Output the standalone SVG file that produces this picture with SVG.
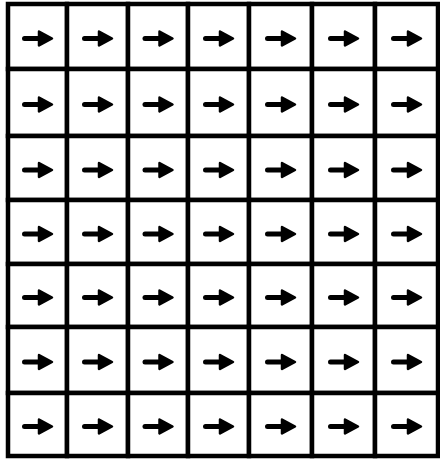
<svg xmlns="http://www.w3.org/2000/svg" xmlns:xlink="http://www.w3.org/1999/xlink" width="440" height="459" viewBox="0 0 440 459">
<style>
.cell{fill:#fff;stroke:#000;stroke-width:4.5}
.shaft{stroke:#000;stroke-width:5;stroke-linecap:round;fill:none}
.head{fill:#000;stroke:#000;stroke-width:2.5;stroke-linejoin:round}
</style>
<defs>
<g id="arr">
<path class="shaft" d="M-13,2 H4"/>
<path class="head" d="M1.5,-5 L14.5,2 L1.5,9 Z"/>
</g>
</defs>
<rect x="0" y="0" width="440" height="459" fill="#fff"/>
<g id="cells">
<g id="r1">
<g id="c1-1"><rect class="cell" x="8" y="4" width="59" height="65"/><use xlink:href="#arr" x="37.5" y="36.5"/></g>
<g id="c1-2"><rect class="cell" x="67" y="4" width="61" height="65"/><use xlink:href="#arr" x="97.5" y="36.5"/></g>
<g id="c1-3"><rect class="cell" x="128" y="4" width="60" height="65"/><use xlink:href="#arr" x="158" y="36.5"/></g>
<g id="c1-4"><rect class="cell" x="188" y="4" width="61" height="65"/><use xlink:href="#arr" x="218.5" y="36.5"/></g>
<g id="c1-5"><rect class="cell" x="249" y="4" width="63" height="65"/><use xlink:href="#arr" x="280.5" y="36.5"/></g>
<g id="c1-6"><rect class="cell" x="312" y="4" width="63" height="65"/><use xlink:href="#arr" x="343.5" y="36.5"/></g>
<g id="c1-7"><rect class="cell" x="375" y="4" width="63" height="65"/><use xlink:href="#arr" x="406.5" y="36.5"/></g>
</g>
<g id="r2">
<g id="c2-1"><rect class="cell" x="8" y="69" width="59" height="67"/><use xlink:href="#arr" x="37.5" y="102.5"/></g>
<g id="c2-2"><rect class="cell" x="67" y="69" width="61" height="67"/><use xlink:href="#arr" x="97.5" y="102.5"/></g>
<g id="c2-3"><rect class="cell" x="128" y="69" width="60" height="67"/><use xlink:href="#arr" x="158" y="102.5"/></g>
<g id="c2-4"><rect class="cell" x="188" y="69" width="61" height="67"/><use xlink:href="#arr" x="218.5" y="102.5"/></g>
<g id="c2-5"><rect class="cell" x="249" y="69" width="63" height="67"/><use xlink:href="#arr" x="280.5" y="102.5"/></g>
<g id="c2-6"><rect class="cell" x="312" y="69" width="63" height="67"/><use xlink:href="#arr" x="343.5" y="102.5"/></g>
<g id="c2-7"><rect class="cell" x="375" y="69" width="63" height="67"/><use xlink:href="#arr" x="406.5" y="102.5"/></g>
</g>
<g id="r3">
<g id="c3-1"><rect class="cell" x="8" y="136" width="59" height="64"/><use xlink:href="#arr" x="37.5" y="168"/></g>
<g id="c3-2"><rect class="cell" x="67" y="136" width="61" height="64"/><use xlink:href="#arr" x="97.5" y="168"/></g>
<g id="c3-3"><rect class="cell" x="128" y="136" width="60" height="64"/><use xlink:href="#arr" x="158" y="168"/></g>
<g id="c3-4"><rect class="cell" x="188" y="136" width="61" height="64"/><use xlink:href="#arr" x="218.5" y="168"/></g>
<g id="c3-5"><rect class="cell" x="249" y="136" width="63" height="64"/><use xlink:href="#arr" x="280.5" y="168"/></g>
<g id="c3-6"><rect class="cell" x="312" y="136" width="63" height="64"/><use xlink:href="#arr" x="343.5" y="168"/></g>
<g id="c3-7"><rect class="cell" x="375" y="136" width="63" height="64"/><use xlink:href="#arr" x="406.5" y="168"/></g>
</g>
<g id="r4">
<g id="c4-1"><rect class="cell" x="8" y="200" width="59" height="64"/><use xlink:href="#arr" x="37.5" y="232"/></g>
<g id="c4-2"><rect class="cell" x="67" y="200" width="61" height="64"/><use xlink:href="#arr" x="97.5" y="232"/></g>
<g id="c4-3"><rect class="cell" x="128" y="200" width="60" height="64"/><use xlink:href="#arr" x="158" y="232"/></g>
<g id="c4-4"><rect class="cell" x="188" y="200" width="61" height="64"/><use xlink:href="#arr" x="218.5" y="232"/></g>
<g id="c4-5"><rect class="cell" x="249" y="200" width="63" height="64"/><use xlink:href="#arr" x="280.5" y="232"/></g>
<g id="c4-6"><rect class="cell" x="312" y="200" width="63" height="64"/><use xlink:href="#arr" x="343.5" y="232"/></g>
<g id="c4-7"><rect class="cell" x="375" y="200" width="63" height="64"/><use xlink:href="#arr" x="406.5" y="232"/></g>
</g>
<g id="r5">
<g id="c5-1"><rect class="cell" x="8" y="264" width="59" height="63"/><use xlink:href="#arr" x="37.5" y="295.5"/></g>
<g id="c5-2"><rect class="cell" x="67" y="264" width="61" height="63"/><use xlink:href="#arr" x="97.5" y="295.5"/></g>
<g id="c5-3"><rect class="cell" x="128" y="264" width="60" height="63"/><use xlink:href="#arr" x="158" y="295.5"/></g>
<g id="c5-4"><rect class="cell" x="188" y="264" width="61" height="63"/><use xlink:href="#arr" x="218.5" y="295.5"/></g>
<g id="c5-5"><rect class="cell" x="249" y="264" width="63" height="63"/><use xlink:href="#arr" x="280.5" y="295.5"/></g>
<g id="c5-6"><rect class="cell" x="312" y="264" width="63" height="63"/><use xlink:href="#arr" x="343.5" y="295.5"/></g>
<g id="c5-7"><rect class="cell" x="375" y="264" width="63" height="63"/><use xlink:href="#arr" x="406.5" y="295.5"/></g>
</g>
<g id="r6">
<g id="c6-1"><rect class="cell" x="8" y="327" width="59" height="66"/><use xlink:href="#arr" x="37.5" y="360"/></g>
<g id="c6-2"><rect class="cell" x="67" y="327" width="61" height="66"/><use xlink:href="#arr" x="97.5" y="360"/></g>
<g id="c6-3"><rect class="cell" x="128" y="327" width="60" height="66"/><use xlink:href="#arr" x="158" y="360"/></g>
<g id="c6-4"><rect class="cell" x="188" y="327" width="61" height="66"/><use xlink:href="#arr" x="218.5" y="360"/></g>
<g id="c6-5"><rect class="cell" x="249" y="327" width="63" height="66"/><use xlink:href="#arr" x="280.5" y="360"/></g>
<g id="c6-6"><rect class="cell" x="312" y="327" width="63" height="66"/><use xlink:href="#arr" x="343.5" y="360"/></g>
<g id="c6-7"><rect class="cell" x="375" y="327" width="63" height="66"/><use xlink:href="#arr" x="406.5" y="360"/></g>
</g>
<g id="r7">
<g id="c7-1"><rect class="cell" x="8" y="393" width="59" height="63"/><use xlink:href="#arr" x="37.5" y="424.5"/></g>
<g id="c7-2"><rect class="cell" x="67" y="393" width="61" height="63"/><use xlink:href="#arr" x="97.5" y="424.5"/></g>
<g id="c7-3"><rect class="cell" x="128" y="393" width="60" height="63"/><use xlink:href="#arr" x="158" y="424.5"/></g>
<g id="c7-4"><rect class="cell" x="188" y="393" width="61" height="63"/><use xlink:href="#arr" x="218.5" y="424.5"/></g>
<g id="c7-5"><rect class="cell" x="249" y="393" width="63" height="63"/><use xlink:href="#arr" x="280.5" y="424.5"/></g>
<g id="c7-6"><rect class="cell" x="312" y="393" width="63" height="63"/><use xlink:href="#arr" x="343.5" y="424.5"/></g>
<g id="c7-7"><rect class="cell" x="375" y="393" width="63" height="63"/><use xlink:href="#arr" x="406.5" y="424.5"/></g>
</g>
</g>
<g id="connectors"/>
</svg>
